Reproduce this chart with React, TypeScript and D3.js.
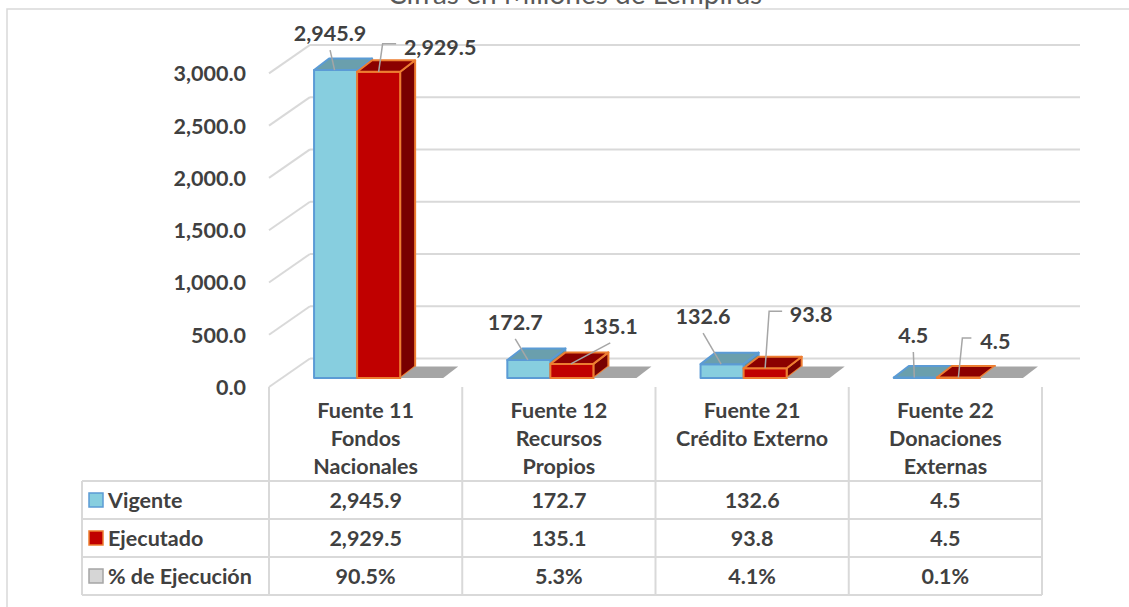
import React from 'react';
import * as d3 from 'd3';

const categories = ['Fuente 11', 'Fuente 12', 'Fuente 21', 'Fuente 22'];
const categoryLines = [
  ['Fuente 11', 'Fondos', 'Nacionales'],
  ['Fuente 12', 'Recursos', 'Propios'],
  ['Fuente 21', 'Crédito Externo'],
  ['Fuente 22', 'Donaciones', 'Externas'],
];
const seriesNames = ['Vigente', 'Ejecutado', '% de Ejecución'];
const vigente = [2945.9, 172.7, 132.6, 4.5];
const ejecutado = [2929.5, 135.1, 93.8, 4.5];
const ejecucionPct = [90.5, 5.3, 4.1, 0.1];
const yTicks = [0, 500, 1000, 1500, 2000, 2500, 3000];
const title = 'Cifras en Millones de Lempiras';

// label placement (relative to bar top-front centre) and leader style
const labelOffsets = [
  [[-5.5, -37, 'line'], [61.5, -25, 'elbow']],
  [[-13.6, -38, 'line'], [38.4, -38, 'line']],
  [[-19, -48, 'line'], [46, -54, 'elbow']],
  [[-2, -42.5, 'line'], [37, -36.5, 'elbow']],
];

const W = 1129;
const H = 607;
const FONT = 'Lato, "Open Sans", sans-serif';
const TXT = '#404040';
const GRID = '#D9D9D9';

const styles = [
  { front: '#87CEDF', top: '#6A9FAD', side: '#5E8F9C', stroke: '#5B9BD5' },
  { front: '#C00000', top: '#8B0000', side: '#780000', stroke: '#ED7D31' },
  { front: '#A5A5A5', top: '#A5A5A5', side: '#8C8C8C', stroke: '#A5A5A5' },
];

export default function App() {
  const x0 = 269;
  const x1 = 1042;
  const floorY = 387;
  const wallDX = 41;
  const wallDY = -28.5;
  const barOffY = -9;
  const barOffX = 13;
  const boxDX = 15;
  const boxDY = -11.5;
  const plotH = 313.6;

  const xCat = d3.scaleBand<string>().domain(categories).range([x0, x1]).paddingInner(0).paddingOuter(0);
  const xSer = d3.scaleBand<string>().domain(seriesNames).range([0, xCat.bandwidth()]).paddingInner(0).paddingOuter(0.745);
  const yH = d3.scaleLinear().domain([0, 3000]).range([0, plotH]);

  const fmt = d3.format(',.1f');
  const fmtPct = (v: number) => d3.format('.1f')(v) + '%';
  const seriesValues = [vigente, ejecutado, ejecucionPct.map((v) => v / 100)];
  const tableValues = [vigente.map(fmt), ejecutado.map(fmt), ejecucionPct.map(fmtPct)];

  const baseY = floorY + barOffY;
  const bw = xSer.bandwidth();

  const bars: React.ReactNode[] = [];
  const labels: React.ReactNode[] = [];
  categories.forEach((c, ci) => {
    seriesNames.forEach((s, si) => {
      const v = seriesValues[si][ci];
      const fx = (xCat(c) as number) + (xSer(s) as number) + barOffX;
      const ty = baseY - yH(v);
      const st = styles[si];
      const side = `${fx + bw},${ty} ${fx + bw + boxDX},${ty + boxDY} ${fx + bw + boxDX},${baseY + boxDY} ${fx + bw},${baseY}`;
      const top = `${fx},${ty} ${fx + bw},${ty} ${fx + bw + boxDX},${ty + boxDY} ${fx + boxDX},${ty + boxDY}`;
      const sw = si === 2 ? 0 : 2;
      bars.push(
        <g key={`b${ci}-${si}`} strokeLinejoin="round">
          <polygon points={side} fill={st.side} stroke={st.stroke} strokeWidth={sw} />
          <rect x={fx} y={ty} width={bw} height={baseY - ty} fill={st.front} stroke={st.stroke} strokeWidth={sw} />
          <polygon points={top} fill={st.top} stroke={st.stroke} strokeWidth={sw} />
        </g>
      );
      if (si < 2) {
        const [dx, dy, kind] = labelOffsets[ci][si] as [number, number, string];
        const cx = fx + bw / 2;
        const lx = cx + dx;
        const ly = ty + dy;
        const text = fmt(v);
        let leader: React.ReactNode;
        if (kind === 'line') {
          leader = <line x1={lx} y1={ly + 17} x2={cx - 1} y2={ty} stroke="#A6A6A6" strokeWidth={1.5} />;
        } else {
          const tw = text.length * 10;
          const ey = ly - 3;
          leader = (
            <polyline
              points={`${lx - tw / 2 - 9},${ey} ${cx + 4},${ey} ${cx},${ty}`}
              fill="none"
              stroke="#A6A6A6"
              strokeWidth={1.5}
            />
          );
        }
        labels.push(
          <g key={`l${ci}-${si}`}>
            {leader}
            <text x={lx} y={ly} textAnchor="middle" dominantBaseline="central" fontWeight={700} fontSize={21.5} fill={TXT}>
              {text}
            </text>
          </g>
        );
      }
    });
  });

  const rowTop = 481;
  const rowH = 38;
  const tableLeft = 82;
  const colEdges = [...categories.map((c) => xCat(c) as number), x1];

  return (
    <div style={{ position: 'absolute', left: 0, top: 0 }}>
      <svg width={W} height={H} style={{ display: 'block', fontFamily: FONT }}>
        <rect x={0} y={0} width={W} height={H} fill="#fff" />
        <rect x={7} y={9} width={1300} height={800} fill="#fff" stroke={GRID} strokeWidth={1.5} />
        <text x={575} y={4} textAnchor="middle" fontSize={28} fill="#595959">
          {title}
        </text>

        {/* walls */}
        {yTicks.map((t) => {
          const h = yH(t);
          return (
            <g key={`g${t}`} stroke={GRID} strokeWidth={2} fill="none">
              <line x1={x0} y1={floorY - h} x2={x0 + wallDX} y2={floorY + wallDY - h} />
              <line x1={x0 + wallDX} y1={floorY + wallDY - h} x2={1080} y2={floorY + wallDY - h} />
            </g>
          );
        })}
        {yTicks.map((t) => (
          <text
            key={`yl${t}`}
            x={246}
            y={floorY - yH(t)}
            textAnchor="end"
            dominantBaseline="central"
            fontWeight={700}
            fontSize={21.5}
            fill={TXT}
          >
            {fmt(t)}
          </text>
        ))}

        {bars}
        {labels}

        {/* data table */}
        <g stroke={GRID} strokeWidth={2} fill="none">
          {colEdges.map((x, i) => (
            <line key={`v${i}`} x1={x} y1={floorY} x2={x} y2={rowTop + rowH * 3} />
          ))}
          <line x1={tableLeft} y1={rowTop} x2={tableLeft} y2={rowTop + rowH * 3} />
          {[0, 1, 2, 3].map((r) => (
            <line key={`h${r}`} x1={tableLeft} y1={rowTop + r * rowH} x2={x1} y2={rowTop + r * rowH} />
          ))}
        </g>
        {categories.map((c, ci) =>
          categoryLines[ci].map((ln, li) => (
            <text
              key={`c${ci}-${li}`}
              x={(xCat(c) as number) + xCat.bandwidth() / 2}
              y={410 + li * 28}
              textAnchor="middle"
              dominantBaseline="central"
              fontWeight={700}
              fontSize={21.5}
              fill={TXT}
            >
              {ln}
            </text>
          ))
        )}
        {seriesNames.map((s, si) => {
          const cy = rowTop + si * rowH + rowH / 2;
          const swatch = si === 2 ? { fill: '#D6D6D6', stroke: '#A5A5A5' } : { fill: styles[si].front, stroke: styles[si].stroke };
          return (
            <g key={`r${si}`}>
              <rect x={89} y={cy - 7} width={14} height={14} fill={swatch.fill} stroke={swatch.stroke} strokeWidth={1.5} />
              <text x={108} y={cy} dominantBaseline="central" fontWeight={700} fontSize={21.5} fill={TXT}>
                {s}
              </text>
              {categories.map((c, ci) => (
                <text
                  key={`t${si}-${ci}`}
                  x={(xCat(c) as number) + xCat.bandwidth() / 2}
                  y={cy}
                  textAnchor="middle"
                  dominantBaseline="central"
                  fontWeight={700}
                  fontSize={21.5}
                  fill={TXT}
                >
                  {tableValues[si][ci]}
                </text>
              ))}
            </g>
          );
        })}
      </svg>
    </div>
  );
}
